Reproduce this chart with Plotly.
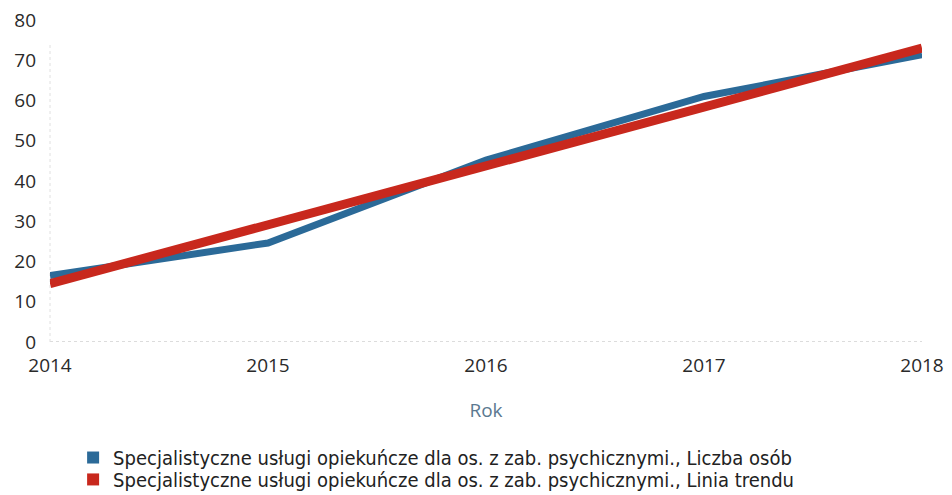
import plotly.graph_objects as go

years = [2014, 2015, 2016, 2017, 2018]
liczba_osob = [16.5, 24.6, 45.2, 61.0, 71.4]
linia_trendu = [14.5, 29.1, 43.7, 58.4, 73.0]

name_a = "Specjalistyczne usługi opiekuńcze dla os. z zab. psychicznymi., Liczba osób"
name_b = "Specjalistyczne usługi opiekuńcze dla os. z zab. psychicznymi., Linia trendu"
blue = "#2b6a98"
red = "#c8281d"

fig = go.Figure()
fig.add_trace(go.Scatter(x=years, y=liczba_osob, mode="lines", name=name_a,
                         line=dict(color=blue, width=7), showlegend=False))
fig.add_trace(go.Scatter(x=years, y=linia_trendu, mode="lines", name=name_b,
                         line=dict(color=red, width=9), showlegend=False))
# legend entries with square swatches, one legend box per entry
fig.add_trace(go.Scatter(x=[None], y=[None], mode="markers", name=name_a, legend="legend",
                         marker=dict(symbol="square", size=15, color=blue)))
fig.add_trace(go.Scatter(x=[None], y=[None], mode="markers", name=name_b, legend="legend2",
                         marker=dict(symbol="square", size=15, color=red)))

fig.add_shape(type="line", xref="paper", yref="y", x0=0, x1=1, y0=0, y1=0,
              line=dict(color="#b8b8b8", width=1, dash="dot"), layer="below")
fig.add_shape(type="line", xref="paper", yref="paper", x0=0, x1=0, y0=0, y1=0.93,
              line=dict(color="#e0e0e0", width=1, dash="dot"), layer="below")

legend_font = dict(family="DejaVu Sans Condensed, Liberation Sans", size=20, color="#222222")

fig.update_layout(
    width=944, height=487,
    margin=dict(l=42, r=30, t=12, b=153, autoexpand=False),
    paper_bgcolor="white", plot_bgcolor="white",
    font=dict(family="Open Sans", size=19, color="#2a2a2a"),
    xaxis=dict(range=[2014, 2018], tickvals=years, ticktext=[str(y) for y in years],
               showgrid=False, zeroline=False, showline=False, automargin=False,
               ticklabelstandoff=10, ticklabeloverflow="allow",
               title=dict(text="Rok", font=dict(size=19, color="#5b7890"), standoff=26)),
    yaxis=dict(range=[0, 80], tickvals=[0, 10, 20, 30, 40, 50, 60, 70, 80], automargin=False,
               showgrid=False, zeroline=False, showline=False, ticklabelstandoff=13,
               ticklabeloverflow="allow"),
    legend=dict(x=0.0265, xanchor="left", yref="container", y=0.117, yanchor="top",
                font=legend_font, itemsizing="constant", bgcolor="rgba(0,0,0,0)"),
    legend2=dict(x=0.0265, xanchor="left", yref="container", y=0.072, yanchor="top",
                 font=legend_font, itemsizing="constant", bgcolor="rgba(0,0,0,0)"),
)

fig.write_html("out.html")
